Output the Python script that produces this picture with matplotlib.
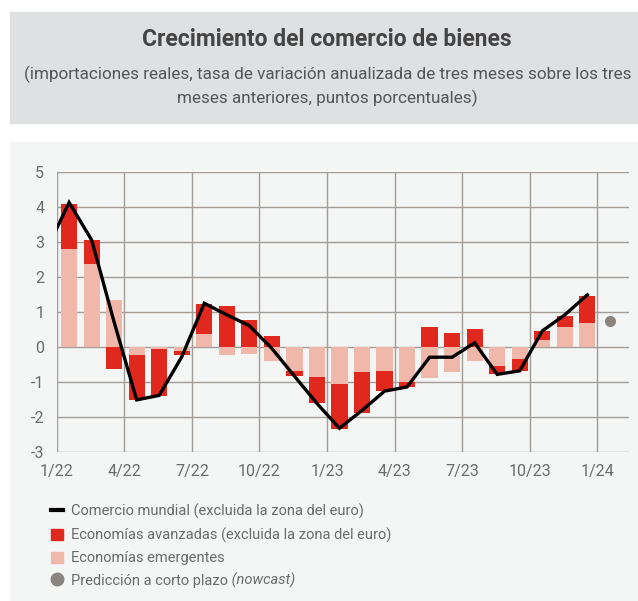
import matplotlib.pyplot as plt
from matplotlib.patches import Rectangle
from matplotlib.lines import Line2D
import numpy as np

plt.rcParams['font.family'] = ['Roboto', 'DejaVu Sans']
plt.rcParams['axes.unicode_minus'] = False

# monthly data, Jan 2022 - Dec 2023
emergentes = [2.80, 2.36, 1.33, -0.24, -0.06, -0.11, 0.36, -0.23, -0.21, -0.41, -0.70, -0.87,
              -1.07, -0.72, -0.70, -1.01, -0.90, -0.72, -0.41, -0.55, -0.35, 0.19, 0.56, 0.68]
avanzadas = [1.28, 0.69, -0.64, -1.29, -1.35, -0.12, 0.86, 1.16, 0.76, 0.30, -0.14, -0.74,
             -1.28, -1.17, -0.56, -0.14, 0.57, 0.39, 0.50, -0.23, -0.34, 0.26, 0.32, 0.77]
# world trade, Dec 2021 - Dec 2023
mundial = [2.77, 4.12, 3.05, 0.70, -1.52, -1.39, -0.29, 1.24, 0.91, 0.60, -0.05, -0.84, -1.62,
           -2.33, -1.82, -1.27, -1.15, -0.30, -0.30, 0.11, -0.79, -0.69, 0.45, 0.91, 1.48]
nowcast = 0.73  # Jan 2024
tick_labels = ['1/22', '4/22', '7/22', '10/22', '1/23', '4/23', '7/23', '10/23', '1/24']

RED = '#e1281e'
PINK = '#efb8aa'
GRID = '#a39d97'
TXT = '#6b6b6b'

fig = plt.figure(figsize=(6.38, 6.01), dpi=100)

# background panels
fig.patches.append(Rectangle((10/638, 1-122.7/601), 1, (122.7-12)/601,
                             transform=fig.transFigure, color='#dfe0e2', zorder=-2))
fig.patches.append(Rectangle((10/638, 0), 1, 1-141.7/601,
                             transform=fig.transFigure, color='#f4f5f5', zorder=-2))

fig.text(0.513, 1-40/601, 'Crecimiento del comercio de bienes', ha='center', va='center',
         fontsize=16.5, fontweight='bold', color='#444444')
fig.text(0.513, 1-86/601, '(importaciones reales, tasa de variación anualizada de tres meses sobre los tres\nmeses anteriores, puntos porcentuales)',
         ha='center', va='center', fontsize=12.3, color='#555555', linespacing=1.5)

ax = fig.add_axes([56.7/638, 1-451.7/601, (629-56.7)/638, 280/601])
ax.set_facecolor('#f4f5f5')

emg = np.array(emergentes)
adv = np.array(avanzadas)
x = np.arange(len(emg)) + 0.55
bottom_adv = np.where(np.sign(emg) == np.sign(adv), emg, 0)
ax.bar(x, emg, width=0.72, color=PINK, zorder=2)
ax.bar(x, adv, bottom=bottom_adv, width=0.72, color=RED, zorder=2)
xl = np.arange(len(mundial)) - 0.45
ax.plot(xl, mundial, color='black', lw=2.4, zorder=3, solid_joinstyle='miter')
ax.plot([24.55], [nowcast], 'o', color='#8c857f', ms=7, zorder=3)

ax.set_xlim(0, 25.4)
ax.set_ylim(-3, 5)
ax.set_xticks(np.arange(0, 25, 3))
ax.set_xticklabels(tick_labels)
ax.set_yticks(np.arange(-3, 6))
ax.grid(True, color=GRID, lw=1, zorder=1)
for s in ax.spines.values():
    s.set_visible(False)
ax.tick_params(axis='both', length=0, colors=TXT, labelsize=11.5)
ax.tick_params(axis='x', pad=9)
ax.tick_params(axis='y', pad=9)

# legend
handles = [Line2D([], [], color='black', lw=3),
           Rectangle((0, 0), 1, 1, color=RED),
           Rectangle((0, 0), 1, 1, color=PINK),
           Line2D([], [], marker='o', ls='', color='#8c857f', ms=9)]
labels = ['Comercio mundial (excluida la zona del euro)',
          'Economías avanzadas (excluida la zona del euro)',
          'Economías emergentes',
          'Predicción a corto plazo']
leg = fig.legend(handles, labels, loc='upper left', bbox_to_anchor=(45/638, 1-498/601),
                 frameon=False, fontsize=10.5, labelcolor=TXT, handlelength=0.85, handleheight=0.85,
                 handletextpad=0.5, labelspacing=0.58, borderaxespad=0)

# italic part of the last legend entry
fig.canvas.draw()
last = leg.get_texts()[-1]
bb = last.get_window_extent().transformed(fig.transFigure.inverted())
fig.text(bb.x1, bb.y0, ' (nowcast)', ha='left', va='bottom', fontsize=10.5, color=TXT,
         style='italic', transform=fig.transFigure)

fig.savefig('out.png', dpi=100)
